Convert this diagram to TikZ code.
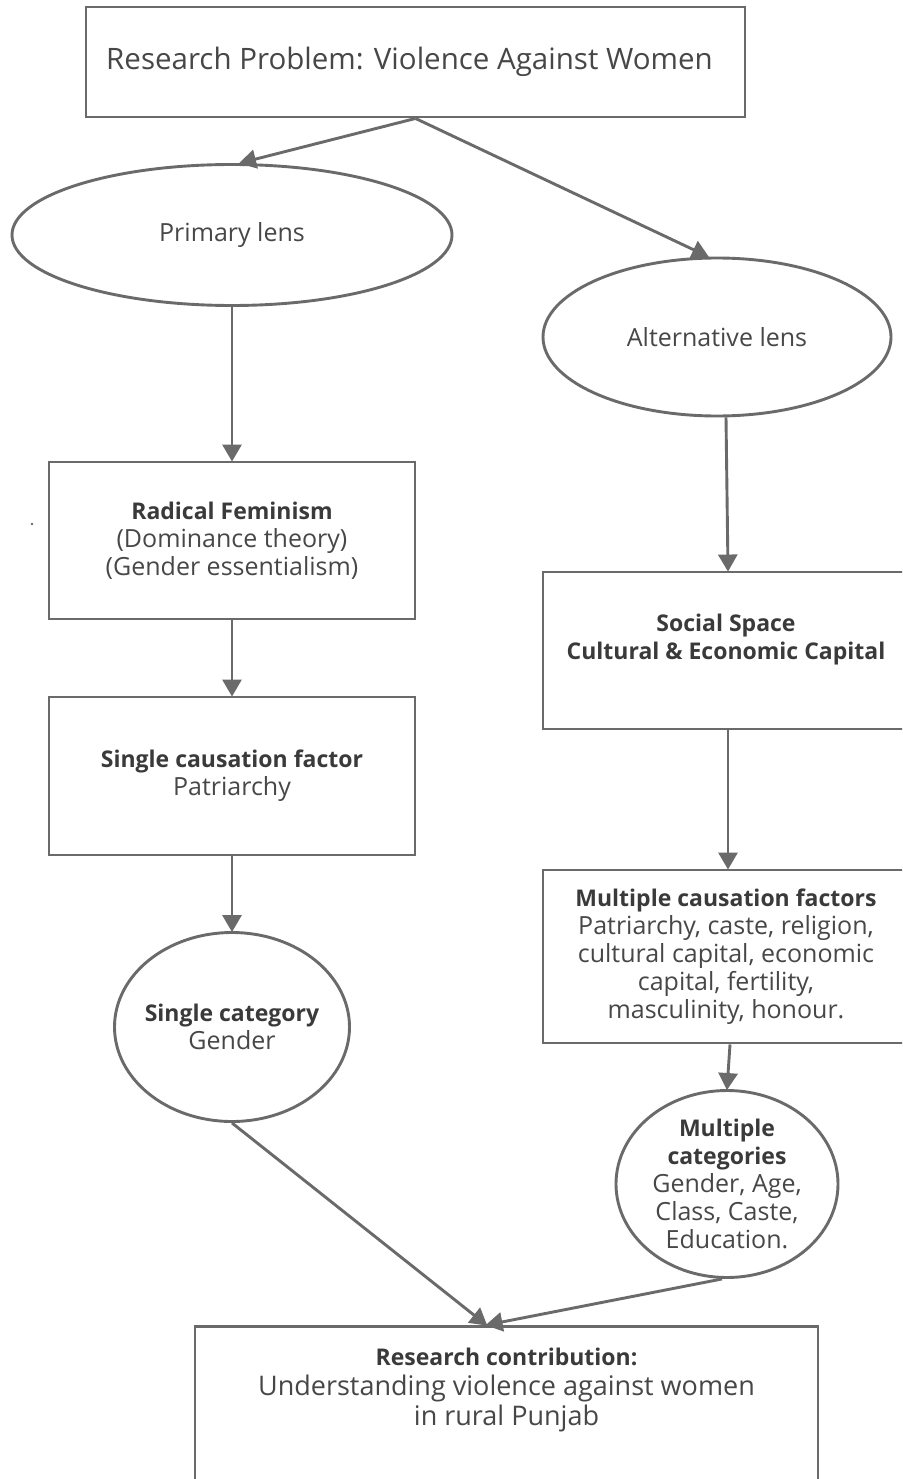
\documentclass[tikz,border=0pt]{standalone}
\usepackage{fontspec}
\setmainfont{Open Sans}
\usetikzlibrary{arrows.meta,shapes.geometric}
\definecolor{linegrey}{HTML}{6A6A6A}
\definecolor{textgrey}{HTML}{474747}
\definecolor{headgrey}{HTML}{3A3A3A}
\tikzset{
    box/.style={draw=linegrey, line width=2.9pt, rectangle, align=center,
        text=textgrey, font=\fontsize{25}{28}\selectfont,
        minimum width=366pt, inner sep=0pt},
    lens/.style={draw=linegrey, line width=2.9pt, ellipse, align=center,
        text=textgrey, font=\fontsize{25}{28}\selectfont, inner sep=-20pt},
    flow/.style={draw=linegrey, line width=2.9pt,
        -{Triangle[length=17pt,width=19pt]}, shorten >=-1pt}
}
\newcommand{\hd}[1]{{\fontsize{23}{28}\selectfont\bfseries\color{headgrey}#1}}
\begin{document}
\begin{tikzpicture}[x=1pt,y=-1pt]
    \useasboundingbox (0,0) rectangle (902,1479);
    \clip (0,0) rectangle (902,1479);
    \fill[white] (0,0) rectangle (902,1479);

    % top of the chart
    \node[box, minimum width=659pt, minimum height=110pt,
        font=\fontsize{29.5}{32}\selectfont] (problem) at (415.5,62)
        {Research Problem: Violence Against Women\hspace*{12pt}};

    % left branch
    \node[lens, minimum width=440pt, minimum height=141pt] (primary) at (232,235)
        {Primary lens};
    \node[box, minimum height=157pt] (radical) at (232,540.5)
        {\hd{Radical Feminism}\\(Dominance theory)\\(Gender essentialism)};
    \node[box, minimum height=158pt] (singlefac) at (232,776)
        {\hd{Single causation factor}\\Patriarchy};
    \node[lens, minimum width=235pt, minimum height=189pt] (singlecat) at (232,1027)
        {\hd{Single category}\\Gender};

    % right branch
    \node[lens, minimum width=348pt, minimum height=158pt] (alt) at (717,337)
        {Alternative lens};
    \node[box, minimum height=157pt] (social) at (726,650.5)
        {\hd{Social Space}\\\hd{Cultural \& Economic Capital}\\ \mbox{}};
    \node[box, minimum height=173pt] (multifac) at (726,956.5)
        {\hd{Multiple causation factors}\\Patriarchy, caste, religion,\\
         cultural capital, economic\\capital, fertility,\\masculinity, honour.};
    \node[lens, minimum width=222pt, minimum height=187pt] (multicat) at (727,1184)
        {\hd{Multiple}\\\hd{categories}\\Gender, Age,\\Class, Caste,\\Education.};

    % bottom of the chart
    \node[box, anchor=north, minimum width=623pt, inner ysep=22pt,
        font=\fontsize{27}{30}\selectfont] (contrib) at (506.5,1325)
        {\hd{Research contribution:}\\Understanding violence against women\\
         in rural Punjab\\ \mbox{}\\ \mbox{}\\ \mbox{}};
    \coordinate (meet) at ([xshift=-20pt]contrib.north);

    % connectors
    \draw[flow] (problem.south) -- ([xshift=8pt]primary.north);
    \draw[flow] (problem.south) -- ([xshift=-9pt]alt.north);
    \draw[flow] (primary.south) -- (radical.north);
    \draw[flow] (radical.south) -- (singlefac.north);
    \draw[flow] (singlefac.south) -- (singlecat.north);
    \draw[flow] ([xshift=9pt]alt.south) -- ([xshift=2pt]social.north);
    \draw[flow] ([xshift=2pt]social.south) -- ([xshift=2pt]multifac.north);
    \draw[flow] ([xshift=4pt]multifac.south) -- (multicat.north);
    \draw[flow] (singlecat.south) -- (meet);
    \draw[flow] ([xshift=-5pt]multicat.south) -- (meet);

    % stray dot left of the radical box
    \fill[linegrey] (32,524) circle (1.3pt);
\end{tikzpicture}
\end{document}
